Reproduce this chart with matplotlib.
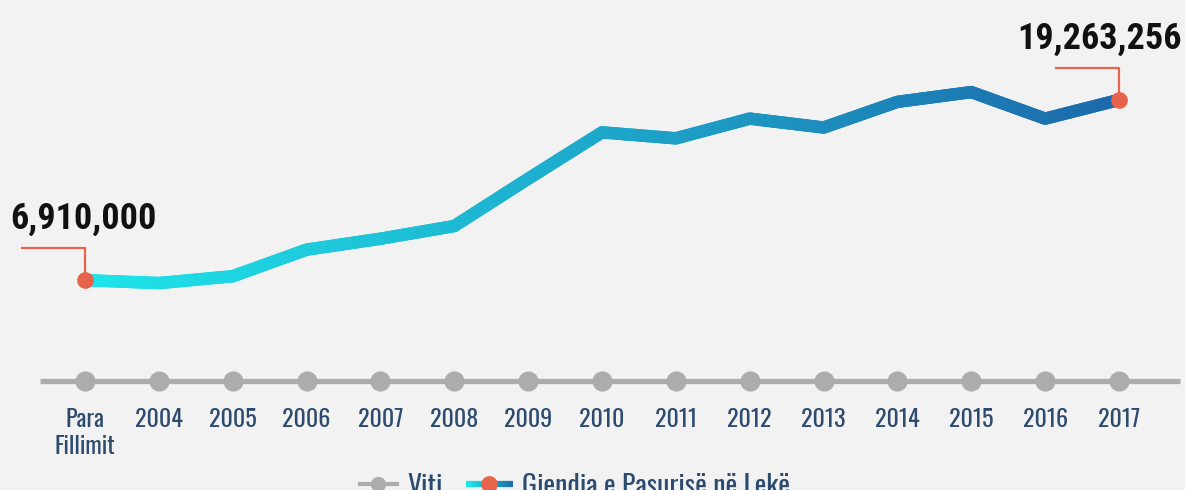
import numpy as np
import matplotlib
matplotlib.use("Agg")
import matplotlib.pyplot as plt
from matplotlib.collections import LineCollection
from matplotlib.colors import LinearSegmentedColormap
from matplotlib.transforms import blended_transform_factory
from matplotlib.lines import Line2D

# DATA
vitet = ['Para\nFillimit', '2004', '2005', '2006', '2007', '2008', '2009', '2010',
         '2011', '2012', '2013', '2014', '2015', '2016', '2017']
viti_vlera = [0] * 15
pasuria = [6910000, 6710000, 7180000, 9000000, 9750000, 10620000, 13860000, 17040000,
           16630000, 17980000, 17370000, 19130000, 19800000, 17980000, 19263256]

BG = '#f2f2f2'
GRAY = '#acacac'
RED = '#e8634b'
LABEL = '#2d4b6e'
cmap = LinearSegmentedColormap.from_list('grad', ['#1ee6ea', '#1c6aab'])

plt.rcParams['font.family'] = ['Oswald', 'DejaVu Sans']
BOLD_FONT = ['Roboto Condensed', 'Barlow Condensed', 'Oswald', 'DejaVu Sans']

fig = plt.figure(figsize=(11.85, 4.9), dpi=100)
fig.patch.set_facecolor(BG)
ax = fig.add_axes([0, 0, 1, 1])
ax.set_facecolor(BG)
ax.set_axis_off()

px = 73.86  # pixels per category
ax.set_xlim(-85 / px, 14 + (1185 - 1119) / px)
ax.set_ylim(-7.47e6, 26.11e6)

x = np.arange(len(vitet))

# Viti series (baseline)
ax.plot([-45 / px, 14 + 61 / px], [0, 0], color=GRAY, lw=3.8, zorder=2,
        solid_capstyle='butt')
ax.plot(x, viti_vlera, 'o', color=GRAY, ms=13.5, zorder=3)

# gradient line
xs, ys = [], []
for i in range(len(x) - 1):
    t = np.linspace(0, 1, 30)
    xs.append(x[i] + (x[i + 1] - x[i]) * t)
    ys.append(pasuria[i] + (pasuria[i + 1] - pasuria[i]) * t)
xs = np.concatenate(xs)
ys = np.concatenate(ys)
pts = np.column_stack([xs, ys]).reshape(-1, 1, 2)
segs = np.concatenate([pts[:-1], pts[1:]], axis=1)
lc = LineCollection(segs, cmap=cmap, linewidths=9, capstyle='round', zorder=4)
lc.set_array(xs[:-1] / x[-1])
lc.set_clim(0, 1)
ax.add_collection(lc)

# end markers
ax.plot([x[0], x[-1]], [pasuria[0], pasuria[-1]], 'o', color=RED, ms=11, zorder=5)

# annotations (connector lines in pixel offsets)
def annot(xi, val, text, dx_line, text_x, ha):
    p = ax.transData.transform((xi, val))
    inv = ax.transData.inverted()
    top = inv.transform((p[0], p[1] + 32))
    left = inv.transform((p[0] + dx_line, p[1] + 32))
    ax.plot([left[0], top[0], top[0]], [top[1], top[1], val], color=RED, lw=1.6, zorder=3)
    tp = inv.transform((text_x, p[1] + 51))
    ax.text(tp[0], tp[1], text, fontsize=26, fontweight='bold', color='#111111',
            ha=ha, va='baseline', family=BOLD_FONT)

annot(x[0], pasuria[0], f'{pasuria[0]:,}', -63, 10, 'left')
annot(x[-1], pasuria[-1], f'{pasuria[-1]:,}', -63, 1182, 'right')

# category labels
trans = blended_transform_factory(ax.transData, fig.transFigure)
for xi, lab in zip(x, vitet):
    ax.text(xi, 1 - 408 / 490, lab, transform=trans, fontsize=17.3, color=LABEL,
            ha='center', va='top', linespacing=1.2)

# legend (partly cut at the bottom edge)
def fx(p):
    return p / 1185

def fy(p):
    return 1 - p / 490

fig.add_artist(Line2D([fx(360), fx(397)], [fy(484), fy(484)], color=GRAY, lw=3,
                      transform=fig.transFigure))
fig.add_artist(Line2D([fx(378)], [fy(484)], marker='o', color=GRAY, ms=10,
                      transform=fig.transFigure))
fig.text(fx(407), fy(495), 'Viti', fontsize=20, color=LABEL, va='baseline')

gx = np.linspace(466, 513, 30)
gpts = np.column_stack([gx / 1185, np.full_like(gx, fy(484))]).reshape(-1, 1, 2)
gsegs = np.concatenate([gpts[:-1], gpts[1:]], axis=1)
glc = LineCollection(gsegs, cmap=cmap, linewidths=4.5, transform=fig.transFigure)
glc.set_array((gx[:-1] - 466) / 47)
glc.set_clim(0, 1)
fig.add_artist(glc)
fig.add_artist(Line2D([fx(489)], [fy(484)], marker='o', color=RED, ms=11,
                      transform=fig.transFigure))
fig.text(fx(522), fy(495), 'Gjendja e Pasurisë në Lekë', fontsize=20, color=LABEL,
         va='baseline')

fig.savefig('out.png', dpi=100, facecolor=BG)
